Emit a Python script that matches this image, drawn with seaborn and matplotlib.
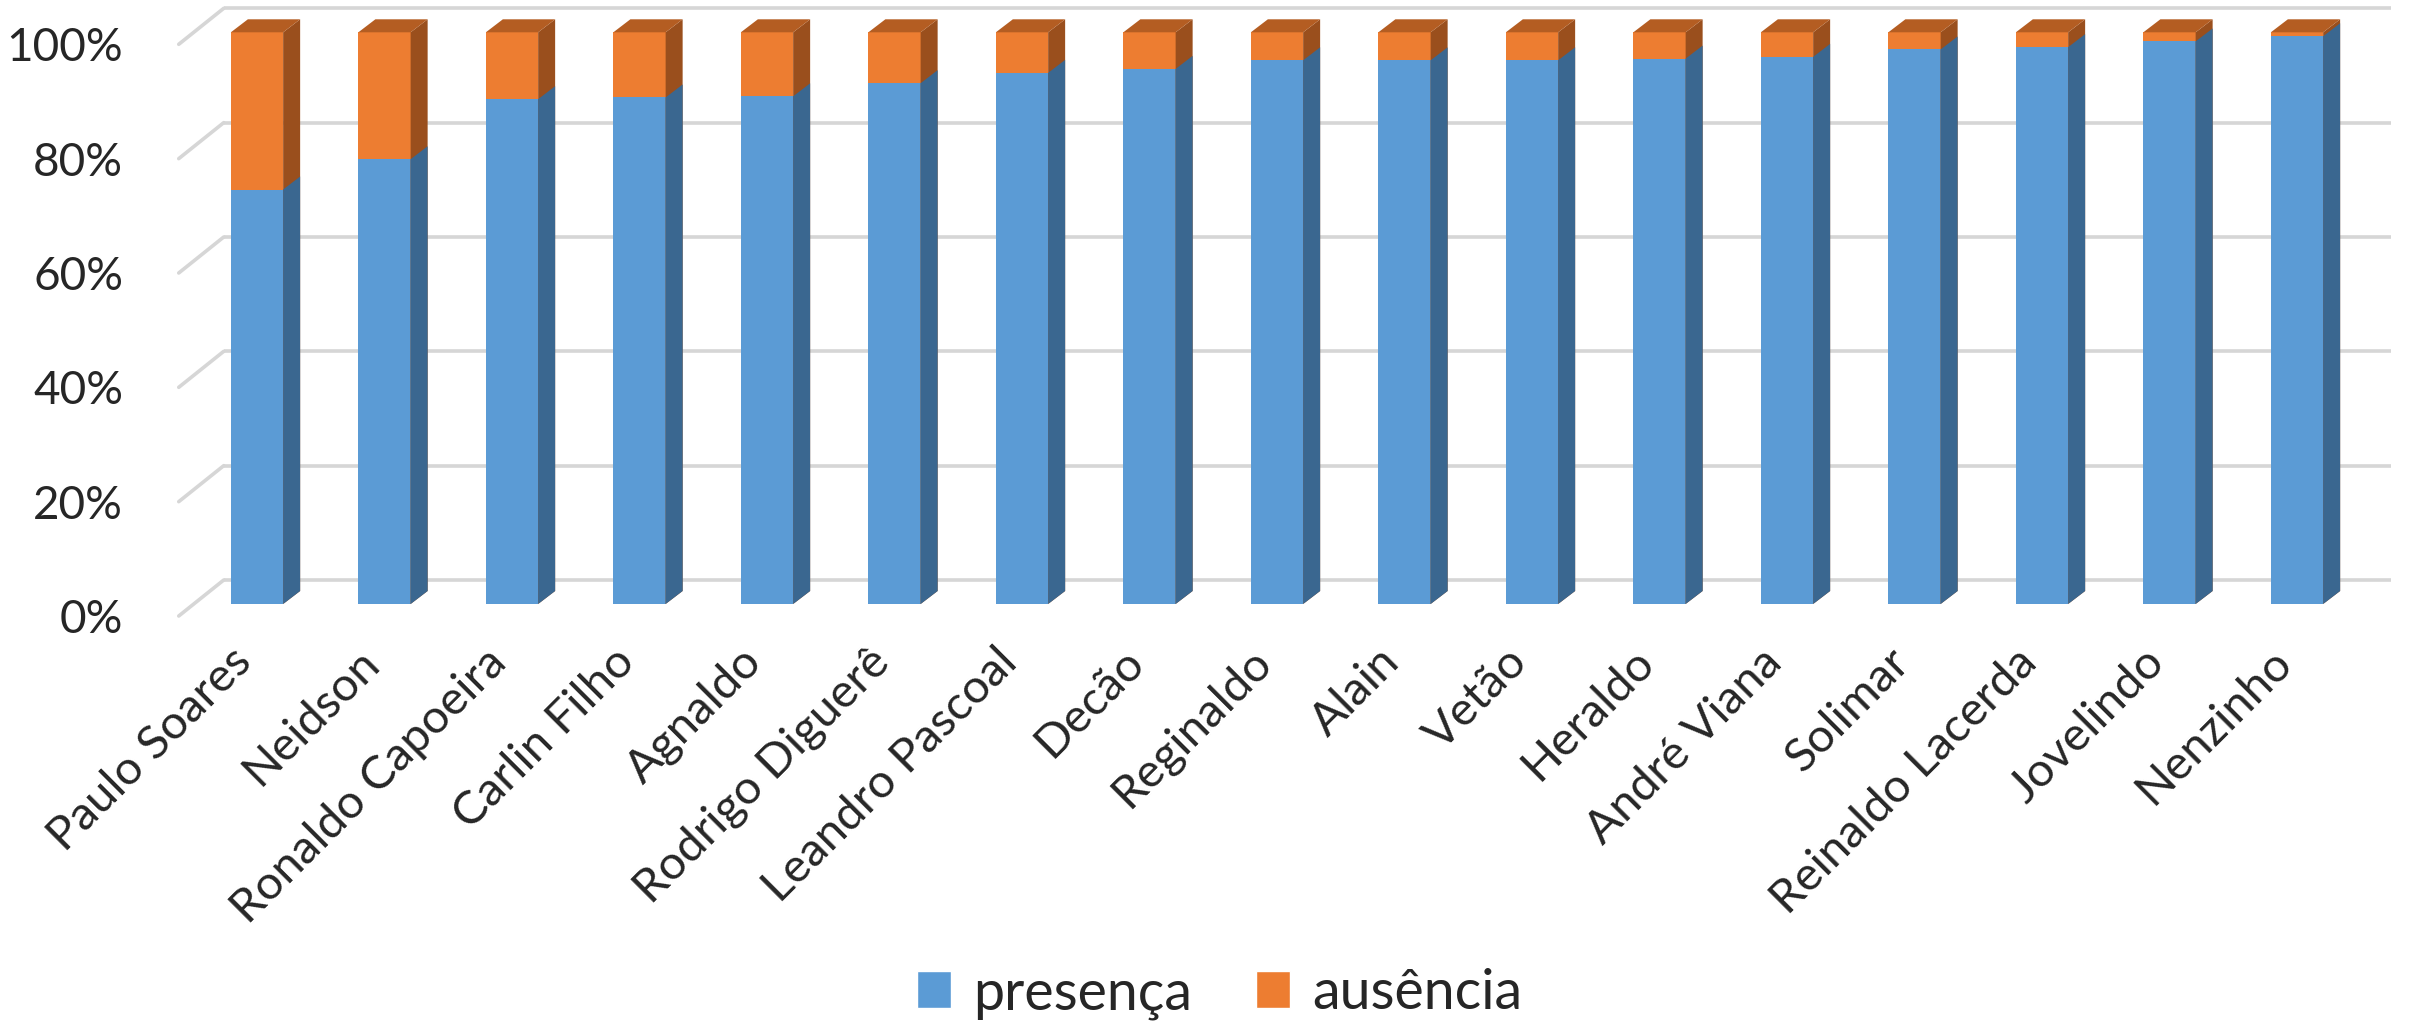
import matplotlib
matplotlib.use("Agg")
import numpy as np
import pandas as pd
import matplotlib.pyplot as plt
import seaborn as sns
from matplotlib.patches import Polygon, Patch
from matplotlib.lines import Line2D
from matplotlib.transforms import ScaledTranslation, IdentityTransform
from matplotlib.ticker import FuncFormatter

# data (percent of sessions)
nomes = ['Paulo Soares', 'Neidson', 'Ronaldo Capoeira', 'Carlin Filho', 'Agnaldo',
         'Rodrigo Diguerê', 'Leandro Pascoal', 'Decão', 'Reginaldo', 'Alain',
         'Vetão', 'Heraldo', 'André Viana', 'Solimar', 'Reinaldo Lacerda',
         'Jovelindo', 'Nenzinho']
presenca = [72.5, 77.8, 88.3, 88.6, 88.8, 91.1, 92.9, 93.6, 95.1, 95.1,
            95.1, 95.4, 95.7, 97.0, 97.4, 98.4, 99.3]
ausencia = [27.5, 22.2, 11.7, 11.4, 11.2, 8.9, 7.1, 6.4, 4.9, 4.9,
            4.9, 4.6, 4.3, 3.0, 2.6, 1.6, 0.7]
yticks = [0, 20, 40, 60, 80, 100]

BLUE, BLUE_SIDE = '#5B9BD5', '#3A6790'
ORANGE, ORANGE_SIDE, ORANGE_TOP = '#ED7D31', '#9A4F1D', '#B45D22'
GRID = '#d6d6d6'

df = pd.DataFrame({'nome': nomes, 'presença': presenca, 'ausência': ausencia})
df['total'] = df['presença'] + df['ausência']

sns.set_theme(style='white')
plt.rcParams['font.family'] = ['Lato', 'DejaVu Sans']

DPI = 100
fig = plt.figure(figsize=(24.10, 10.22), dpi=DPI)
W, H = 2410, 1022
# axes = front plane of the bars (pixels measured on the reference)
left, right, top, bottom = 193.25, 2360.75, 32.3, 604.0
ax = fig.add_axes([left / W, 1 - bottom / H, (right - left) / W, (bottom - top) / H])

sns.barplot(data=df, x='nome', y='total', color=ORANGE, saturation=1, width=0.41,
            errorbar=None, ax=ax, zorder=3, linewidth=0)
sns.barplot(data=df, x='nome', y='presença', color=BLUE, saturation=1, width=0.41,
            errorbar=None, ax=ax, zorder=3, linewidth=0)
ax.set_xlim(-0.5, len(nomes) - 0.5)
ax.set_ylim(0, 100)
for s in ax.spines.values():
    s.set_visible(False)
ax.set_xlabel('')
ax.set_ylabel('')
ax.grid(False)

# 3d depth of a bar and offsets of the back wall / front edge (pixels)
ddx, ddy = 17, 13
back_dx, back_dy = 30.5, 24
front_dx, front_dy = -14.5, -12

# back wall gridlines
back_tr = ax.transData + ScaledTranslation(back_dx / DPI, back_dy / DPI, fig.dpi_scale_trans)
for v in yticks:
    ax.plot([-0.5, len(nomes) - 0.5], [v, v], color=GRID, lw=2.6, transform=back_tr,
            clip_on=False, zorder=1, solid_capstyle='butt')
    px, py = ax.transData.transform((-0.5, v))
    ax.add_line(Line2D([px + back_dx, px + front_dx], [py + back_dy, py + front_dy],
                       color=GRID, lw=2.6, transform=IdentityTransform(), clip_on=False, zorder=1))

# side and top faces
n = len(nomes)
orange_bars = ax.patches[:n]
blue_bars = ax.patches[n:2 * n]
for bars, side_col, top_col in [(orange_bars, ORANGE_SIDE, ORANGE_TOP), (blue_bars, BLUE_SIDE, None)]:
    for p in bars:
        x0, y0 = p.get_x(), p.get_y()
        x1, y1 = x0 + p.get_width(), y0 + p.get_height()
        (X0, Y0), (X1, Y1) = ax.transData.transform([(x0, y0), (x1, y1)])
        side = Polygon([(X1, Y0), (X1, Y1), (X1 + ddx, Y1 + ddy), (X1 + ddx, Y0 + ddy)],
                       closed=True, facecolor=side_col, edgecolor='none',
                       transform=IdentityTransform(), clip_on=False, zorder=4)
        ax.add_patch(side)
        if top_col is not None:
            topf = Polygon([(X0, Y1), (X1, Y1), (X1 + ddx, Y1 + ddy), (X0 + ddx, Y1 + ddy)],
                           closed=True, facecolor=top_col, edgecolor='none',
                           transform=IdentityTransform(), clip_on=False, zorder=4)
            ax.add_patch(topf)

# axis labels
ax.set_yticks(yticks)
ax.yaxis.set_major_formatter(FuncFormatter(lambda v, pos: f'{int(v)}%'))
ax.tick_params(axis='y', length=0, pad=40, labelsize=33)
for lab in ax.get_yticklabels():
    lab.set_transform(lab.get_transform() + ScaledTranslation(front_dx / DPI, front_dy / DPI, fig.dpi_scale_trans))

ax.set_xticks(range(n))
ax.set_xticklabels(nomes, rotation=45, ha='right', va='center', rotation_mode='anchor', fontsize=34)
ax.tick_params(axis='x', length=0, pad=37)
for lab in ax.get_xticklabels():
    lab.set_transform(lab.get_transform() + ScaledTranslation(-12 / DPI, 0, fig.dpi_scale_trans))

handles = [Patch(facecolor=BLUE, label='presença'), Patch(facecolor=ORANGE, label='ausência')]
fig.legend(handles=handles, loc='center', bbox_to_anchor=(1220 / W, 1 - 994 / H), ncol=2,
           frameon=False, fontsize=40, handlelength=0.61, handleheight=0.65,
           handletextpad=0.4, columnspacing=1.15)

fig.savefig('out.png', dpi=DPI, facecolor='white')
